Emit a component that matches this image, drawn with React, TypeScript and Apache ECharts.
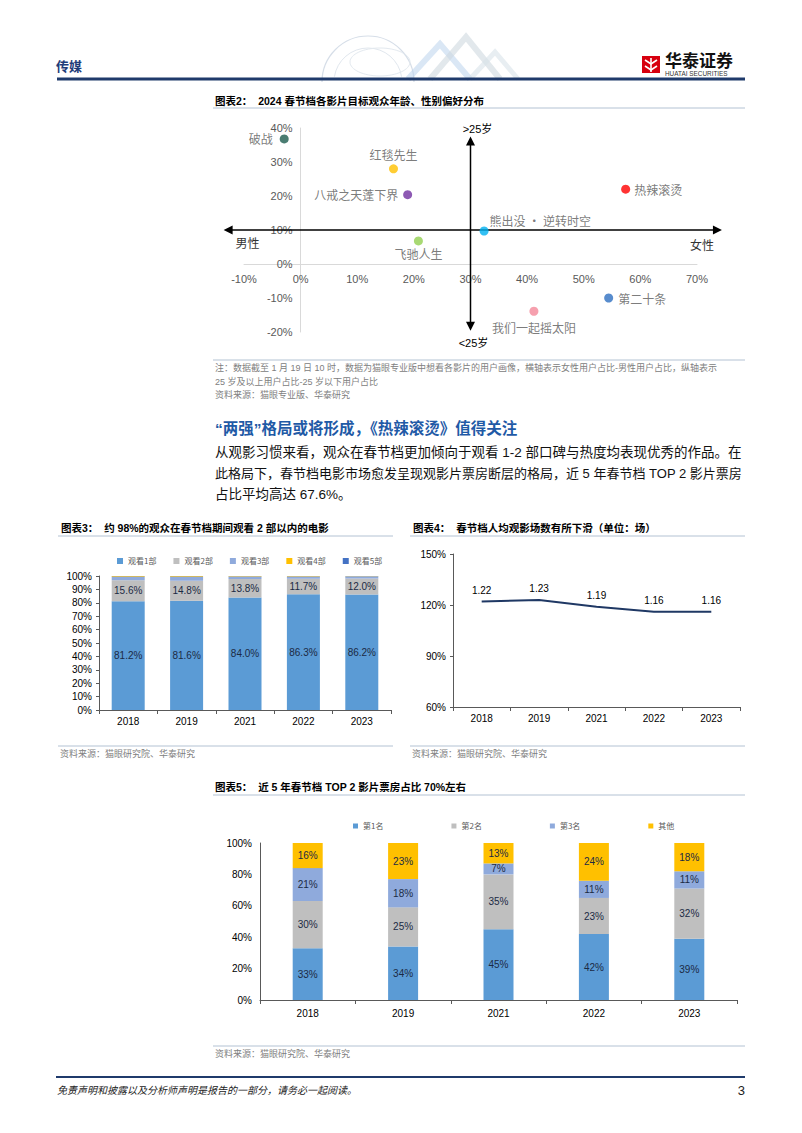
import React, { useEffect, useRef } from 'react';
import * as echarts from 'echarts';

// ---------- Data ----------
const scatterNames = ['破战', '红毯先生', '八戒之天蓬下界', '热辣滚烫', '熊出没 • 逆转时空', '飞驰人生', '第二十条', '我们一起摇太阳'];
const femaleMinusMale = [-2.9, 16.4, 18.9, 57.4, 32.4, 20.8, 54.4, 41.2];
const over25MinusUnder25 = [36.8, 28.0, 20.4, 22.0, 9.7, 6.8, -10.0, -13.9];

const years3 = ['2018', '2019', '2021', '2022', '2023'];
const watchNames = ['观看1部', '观看2部', '观看3部', '观看4部', '观看5部'];
const watch1 = [81.2, 81.6, 84.0, 86.3, 86.2];
const watch2 = [15.6, 14.8, 13.8, 11.7, 12.0];
const watch3 = [2.5, 2.8, 1.7, 1.5, 1.4];
const watch4 = [0.5, 0.6, 0.3, 0.3, 0.2];
const watch5 = [0.2, 0.2, 0.2, 0.2, 0.2];

const years4 = ['2018', '2019', '2021', '2022', '2023'];
const perCapita = [1.22, 1.23, 1.19, 1.16, 1.16];

const years5 = ['2018', '2019', '2021', '2022', '2023'];
const rankNames = ['第1名', '第2名', '第3名', '其他'];
const rank1 = [33, 34, 45, 42, 39];
const rank2 = [30, 25, 35, 23, 32];
const rank3 = [21, 18, 7, 11, 11];
const others = [16, 23, 13, 24, 18];

// ---------- Styles ----------
const CJK = '"Noto Sans CJK SC", sans-serif';
const MIX = '"Liberation Sans", "Noto Sans CJK SC", sans-serif';
const scatterColors = ['#1d5c4f', '#ffc000', '#7030a0', '#ff0000', '#00b0f0', '#92d050', '#2e6fc0', '#f4889a'];
const scatterLabelPos: any[] = [
  { position: 'left', distance: 7 },
  { position: 'top', distance: 4 },
  { position: 'left', distance: 5 },
  { position: 'right', distance: 4 },
  { position: 'right', distance: 3, offset: [-2, -11] },
  { position: 'bottom', distance: 2 },
  { position: 'right', distance: 5 },
  { position: 'bottom', distance: 6 },
];
const watchColors = ['#5b9bd5', '#bfbfbf', '#8faadc', '#ffc000', '#4472c4'];
const rankColors = ['#5b9bd5', '#bfbfbf', '#8faadc', '#ffc000'];
const AX = '#595959';

// scatter grid geometry
const SG = { left: 244, top: 128, width: 453, height: 204 };
const SX = [-10, 70];
const SY = [-20, 40];

function T(x: number, y: number, text: string, o: any = {}) {
  const align = o.align ?? 'left';
  return {
    type: 'text', x, y, silent: true, z: o.z ?? 5,
    style: {
      text, fontSize: o.size ?? 10, fontFamily: o.family ?? MIX, fontWeight: o.weight ?? 'normal',
      fontStyle: o.fstyle ?? 'normal', fill: o.color ?? '#000',
      textAlign: align, textVerticalAlign: 'middle', align, verticalAlign: 'middle',
    },
  };
}
function L(x1: number, y1: number, x2: number, y2: number, stroke: string, lineWidth = 1, z = 1) {
  return { type: 'line', silent: true, z, shape: { x1, y1, x2, y2 }, style: { stroke, lineWidth } };
}
function arrowHead(tx: number, ty: number, dx: number, dy: number) {
  const len = 9, w = 4.5;
  const nx = -dy, ny = dx;
  return {
    type: 'polygon', silent: true, z: 1,
    shape: { points: [[tx, ty], [tx - len * dx + w * nx, ty - len * dy + w * ny], [tx - len * dx - w * nx, ty - len * dy - w * ny]] },
    style: { fill: '#000' },
  };
}

const titleLine = '#b3c2d3';
const noteColor = '#808080';

function staticGraphics(): any[] {
  const g: any[] = [];
  // header decoration
  g.push({ type: 'arc', silent: true, z: 0, shape: { cx: 368, cy: 82, r: 46, startAngle: Math.PI, endAngle: Math.PI * 2 }, style: { stroke: '#d6dee8', lineWidth: 1.2, fill: null } });
  g.push({ type: 'arc', silent: true, z: 0, shape: { cx: 368, cy: 82, r: 34, startAngle: Math.PI * 1.05, endAngle: Math.PI * 1.95 }, style: { stroke: '#e1e7ee', lineWidth: 1, fill: null } });
  g.push({ type: 'ellipse', silent: true, z: 0, shape: { cx: 380, cy: 62, rx: 30, ry: 14 }, style: { stroke: '#e3e9ef', lineWidth: 1, fill: null } });
  g.push({ type: 'polyline', silent: true, z: 0, shape: { points: [[408, 79], [440, 44], [470, 79]] }, style: { stroke: '#bcd4ec', lineWidth: 6, opacity: 0.55 } });
  g.push({ type: 'polyline', silent: true, z: 0, shape: { points: [[430, 79], [466, 37], [500, 79]] }, style: { stroke: '#cfd8e0', lineWidth: 6, opacity: 0.6 } });
  g.push({ type: 'polyline', silent: true, z: 0, shape: { points: [[470, 79], [495, 52], [518, 79]] }, style: { stroke: '#d9e2ea', lineWidth: 5, opacity: 0.6 } });
  g.push(T(56, 65, '传媒', { size: 13, weight: 'bold', color: '#1f3d7a', family: CJK }));
  g.push({ type: 'rect', silent: true, shape: { x: 642, y: 56, width: 18, height: 17 }, style: { fill: '#d7000f' } });
  g.push({ type: 'polyline', silent: true, shape: { points: [[645, 60], [651, 64], [657, 60]] }, style: { stroke: '#fff', lineWidth: 1.6 } });
  g.push({ type: 'polyline', silent: true, shape: { points: [[645, 66], [651, 70], [657, 66]] }, style: { stroke: '#fff', lineWidth: 1.6 } });
  g.push(L(651, 58, 651, 72, '#fff', 1.6, 2));
  g.push(T(665, 59, '华泰证券', { size: 17, weight: 'bold', color: '#111', family: CJK }));
  g.push(T(665, 73, 'HUATAI SECURITIES', { size: 6.4, color: '#333' }));
  g.push(L(57, 79, 745, 79, '#1f3a6b', 3));

  // chart 2 title
  g.push(T(215, 101, '图表2：  2024 春节档各影片目标观众年龄、性别偏好分布', { size: 10.5, weight: 'bold' }));
  g.push(L(213, 108, 745, 108, titleLine));
  // notes
  g.push(L(213, 360, 745, 360, titleLine));
  g.push(T(215, 368, '注：数据截至 1 月 19 日 10 时，数据为猫眼专业版中想看各影片的用户画像，横轴表示女性用户占比-男性用户占比，纵轴表示', { size: 9, color: noteColor }));
  g.push(T(215, 381.5, '25 岁及以上用户占比-25 岁以下用户占比', { size: 9, color: noteColor }));
  g.push(T(215, 394.5, '资料来源：猫眼专业版、华泰研究', { size: 9, color: noteColor }));

  // section heading & paragraph
  g.push(T(215, 428, '“两强”格局或将形成，《热辣滚烫》值得关注', { size: 15.5, weight: 'bold', color: '#1f5aa6' }));
  g.push(T(215, 452, '从观影习惯来看，观众在春节档更加倾向于观看 1-2 部口碑与热度均表现优秀的作品。在', { size: 13.5, color: '#111' }));
  g.push(T(215, 473, '此格局下，春节档电影市场愈发呈现观影片票房断层的格局，近 5 年春节档 TOP 2 影片票房', { size: 13, color: '#111' }));
  g.push(T(215, 494, '占比平均高达 67.6%。', { size: 13.5, color: '#111' }));

  // chart 3
  g.push(T(61, 528, '图表3：  约 98%的观众在春节档期间观看 2 部以内的电影', { size: 10.5, weight: 'bold' }));
  g.push(L(58, 536, 393, 536, titleLine));
  g.push(L(58, 746, 393, 746, titleLine));
  g.push(T(60, 754, '资料来源：猫眼研究院、华泰研究', { size: 9, color: noteColor }));

  // chart 4
  g.push(T(413, 528, '图表4：  春节档人均观影场数有所下滑（单位：场）', { size: 10.5, weight: 'bold' }));
  g.push(L(410, 536, 745, 536, titleLine));
  g.push(L(410, 746, 745, 746, titleLine));
  g.push(T(412, 754, '资料来源：猫眼研究院、华泰研究', { size: 9, color: noteColor }));

  // chart 5
  g.push(T(215, 787, '图表5：  近 5 年春节档 TOP 2 影片票房占比 70%左右', { size: 10.5, weight: 'bold' }));
  g.push(L(213, 795, 745, 795, titleLine));
  g.push(L(213, 1046, 745, 1046, titleLine));
  g.push(T(215, 1054, '资料来源：猫眼研究院、华泰研究', { size: 9, color: noteColor }));

  // footer
  g.push(L(56, 1077, 745, 1077, '#1f3a6b', 2));
  g.push(T(57, 1090, '免责声明和披露以及分析师声明是报告的一部分，请务必一起阅读。', { size: 10, fstyle: 'italic', color: '#222' }));
  g.push(T(745, 1090, '3', { size: 13, align: 'right', color: '#222' }));
  return g;
}

function baseOption(): any {
  const axisLbl = { color: '#000', fontSize: 10, fontFamily: MIX };
  const darkLine = { lineStyle: { color: AX, width: 1 } };
  // place scatter axes through the origin (0%, 0%)
  const xOff = -((0 - SY[0]) / (SY[1] - SY[0])) * SG.height;
  const yOff = -((0 - SX[0]) / (SX[1] - SX[0])) * SG.width;
  return {
    animation: false,
    backgroundColor: '#fff',
    textStyle: { fontFamily: MIX },
    grid: [
      { ...SG },
      { left: 99, top: 576, width: 292, height: 134 },
      { left: 453, top: 554, width: 287, height: 153 },
      { left: 260, top: 843, width: 477, height: 157 },
    ],
    legend: [
      {
        data: watchNames, left: 112, top: 552, icon: 'rect', itemWidth: 6, itemHeight: 6, itemGap: 17,
        textStyle: { fontSize: 8, color: '#595959', fontFamily: CJK }, selectedMode: false,
      },
      {
        data: rankNames, left: 348, top: 817, icon: 'rect', itemWidth: 5, itemHeight: 5, itemGap: 68,
        textStyle: { fontSize: 8, color: '#595959', fontFamily: CJK }, selectedMode: false,
      },
    ],
    xAxis: [
      {
        type: 'value', gridIndex: 0, min: SX[0], max: SX[1], interval: 10, position: 'bottom', offset: xOff,
        axisLine: { show: true, onZero: false, lineStyle: { color: '#d9d9d9' } }, axisTick: { show: false }, splitLine: { show: false },
        axisLabel: { formatter: '{value}%', color: '#595959', fontSize: 11, margin: 9 },
      },
      {
        type: 'category', gridIndex: 1, data: years3, axisLine: darkLine,
        axisTick: { show: true, length: 4, lineStyle: { color: AX } }, axisLabel: { ...axisLbl, margin: 6 },
      },
      {
        type: 'category', gridIndex: 2, data: years4, axisLine: darkLine,
        axisTick: { show: true, length: 4, lineStyle: { color: AX } }, axisLabel: { ...axisLbl, margin: 6 },
      },
      {
        type: 'category', gridIndex: 3, data: years5, axisLine: darkLine,
        axisTick: { show: true, length: 4, lineStyle: { color: AX } }, axisLabel: { ...axisLbl, margin: 8 },
      },
    ],
    yAxis: [
      {
        type: 'value', gridIndex: 0, min: SY[0], max: SY[1], interval: 10, position: 'left', offset: yOff,
        axisLine: { show: true, onZero: false, lineStyle: { color: '#d9d9d9' } }, axisTick: { show: false }, splitLine: { show: false },
        axisLabel: { formatter: '{value}%', color: '#595959', fontSize: 11, margin: 8 },
      },
      {
        type: 'value', gridIndex: 1, min: 0, max: 100, interval: 10,
        axisLine: { show: true, ...darkLine }, axisTick: { show: true, length: 3, lineStyle: { color: AX } },
        splitLine: { show: false }, axisLabel: { ...axisLbl, formatter: '{value}%', margin: 7 },
      },
      {
        type: 'value', gridIndex: 2, min: 60, max: 150, interval: 30,
        axisLine: { show: true, ...darkLine }, axisTick: { show: true, length: 3, lineStyle: { color: AX } },
        splitLine: { show: false }, axisLabel: { ...axisLbl, formatter: '{value}%', margin: 7 },
      },
      {
        type: 'value', gridIndex: 3, min: 0, max: 100, interval: 20,
        axisLine: { show: true, ...darkLine }, axisTick: { show: false },
        splitLine: { show: false }, axisLabel: { ...axisLbl, formatter: '{value}%', margin: 8 },
      },
    ],
    series: [
      {
        type: 'scatter', xAxisIndex: 0, yAxisIndex: 0, symbolSize: 9, z: 3,
        label: { show: true, formatter: '{b}', color: '#595959', fontSize: 12, fontFamily: CJK },
        data: scatterNames.map((n, i) => ({
          name: n, value: [femaleMinusMale[i], over25MinusUnder25[i]],
          itemStyle: { color: scatterColors[i] },
          label: scatterLabelPos[i],
        })),
      },
      ...[watch1, watch2, watch3, watch4, watch5].map((d, i) => ({
        name: watchNames[i], type: 'bar', stack: 'watch', xAxisIndex: 1, yAxisIndex: 1, barWidth: 33,
        itemStyle: { color: watchColors[i] }, data: d,
        label: {
          show: i < 2, position: 'inside', fontSize: 10, color: '#1b2a44',
          formatter: (p: any) => Number(p.value).toFixed(1) + '%',
        },
      })),
      {
        name: '人均观影场数', type: 'line', xAxisIndex: 2, yAxisIndex: 2, symbol: 'circle', symbolSize: 0.1, showSymbol: true,
        lineStyle: { color: '#1f3864', width: 2 }, itemStyle: { color: '#1f3864' },
        data: perCapita.map((v) => Math.round(v * 10000) / 100),
        label: {
          show: true, position: 'top', distance: 6, fontSize: 10, color: '#000',
          formatter: (p: any) => perCapita[p.dataIndex].toFixed(2),
        },
      },
      ...[rank1, rank2, rank3, others].map((d, i) => ({
        name: rankNames[i], type: 'bar', stack: 'rank', xAxisIndex: 3, yAxisIndex: 3, barWidth: 30,
        itemStyle: { color: rankColors[i] }, data: d,
        label: { show: true, position: 'inside', fontSize: 10, color: '#1b2a44', formatter: '{c}%' },
      })),
    ],
  };
}

export default function App() {
  const ref = useRef<HTMLDivElement>(null);
  useEffect(() => {
    if (!ref.current) return;
    const chart = echarts.init(ref.current, null, { renderer: 'svg' });
    chart.setOption(baseOption());
    const px = (x: number, y: number) => chart.convertToPixel({ gridIndex: 0 } as any, [x, y]) as unknown as number[];
    const g = staticGraphics();
    // quadrant arrows (age / gender axes cross at 30%, 10%)
    const hl = px(-13.6, 10), hr = px(74.4, 10);
    const vt = px(30, 37.5), vb = px(30, -19.6);
    g.push(L(hl[0] + 4, hl[1], hr[0] - 4, hr[1], '#000', 1.5, 1));
    g.push(arrowHead(hl[0], hl[1], -1, 0));
    g.push(arrowHead(hr[0], hr[1], 1, 0));
    g.push(L(vt[0], vt[1] + 4, vb[0], vb[1] - 4, '#000', 1.5, 1));
    g.push(arrowHead(vt[0], vt[1], 0, -1));
    g.push(arrowHead(vb[0], vb[1], 0, 1));
    g.push(T(vt[0] + 7, vt[1] - 8, '>25岁', { size: 11, align: 'center', color: '#000' }));
    g.push(T(vb[0] + 3, vb[1] + 12, '<25岁', { size: 11, align: 'center', color: '#000' }));
    g.push(T(hl[0] + 24, hl[1] + 12, '男性', { size: 12, align: 'center', color: '#333', family: CJK }));
    g.push(T(hr[0] - 20, hr[1] + 14, '女性', { size: 12, align: 'center', color: '#333', family: CJK }));
    chart.setOption({ graphic: g });
    return () => chart.dispose();
  }, []);
  return (
    <div
      ref={ref}
      style={{ position: 'absolute', left: 0, top: 0, width: 802, height: 1133, background: '#fff' }}
    />
  );
}
